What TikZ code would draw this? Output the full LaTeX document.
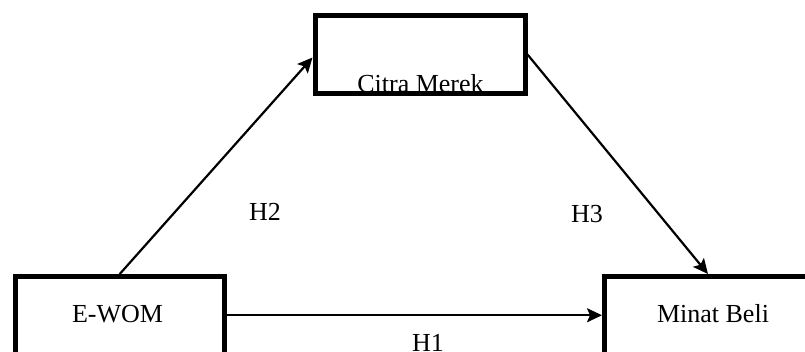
\documentclass[tikz,border=0pt]{standalone}
\usepackage{fontspec}
\setmainfont{Liberation Serif}
\usetikzlibrary{arrows.meta}
\begin{document}
\begin{tikzpicture}[x=1pt,y=-1pt,
  font=\fontsize{26}{30}\selectfont,
  boxnode/.style={draw=black,line width=5pt,rectangle,inner sep=0pt},
  lbl/.style={anchor=base,inner sep=0pt},
  conn/.style={line width=2.2pt,-{Stealth[length=15pt,width=14pt,inset=3pt]}}]
\useasboundingbox (0,0) rectangle (805,352);
\clip (0,0) rectangle (805,352);
% Citra Merek (text first, box drawn over it)
\node[lbl] (citratext) at (420.5,93) {Citra Merek};
\node[boxnode,minimum width=210pt,minimum height=78pt] (citra) at (420,54.5) {};
% E-WOM
\node[boxnode,minimum width=209.5pt,minimum height=77.5pt] (ewom) at (119.75,315.25) {};
\node[lbl] (ewomtext) at (117.5,323) {E-WOM};
% Minat Beli
\node[boxnode,minimum width=217pt,minimum height=77.5pt] (minat) at (713,315.25) {};
\node[lbl] (minattext) at (713,323) {Minat Beli};
% connectors
\draw[conn] (ewom.north) -- ([yshift=-3pt]citra.west);
\draw[conn] (citra.east) -- ([xshift=-5pt]minat.north);
\draw[conn] (ewom.east) -- (minat.west);
% labels
\node[lbl] (h1) at (428,351) {H1};
\node[lbl] (h2) at (265,221) {H2};
\node[lbl] (h3) at (587,223) {H3};
\end{tikzpicture}
\end{document}
